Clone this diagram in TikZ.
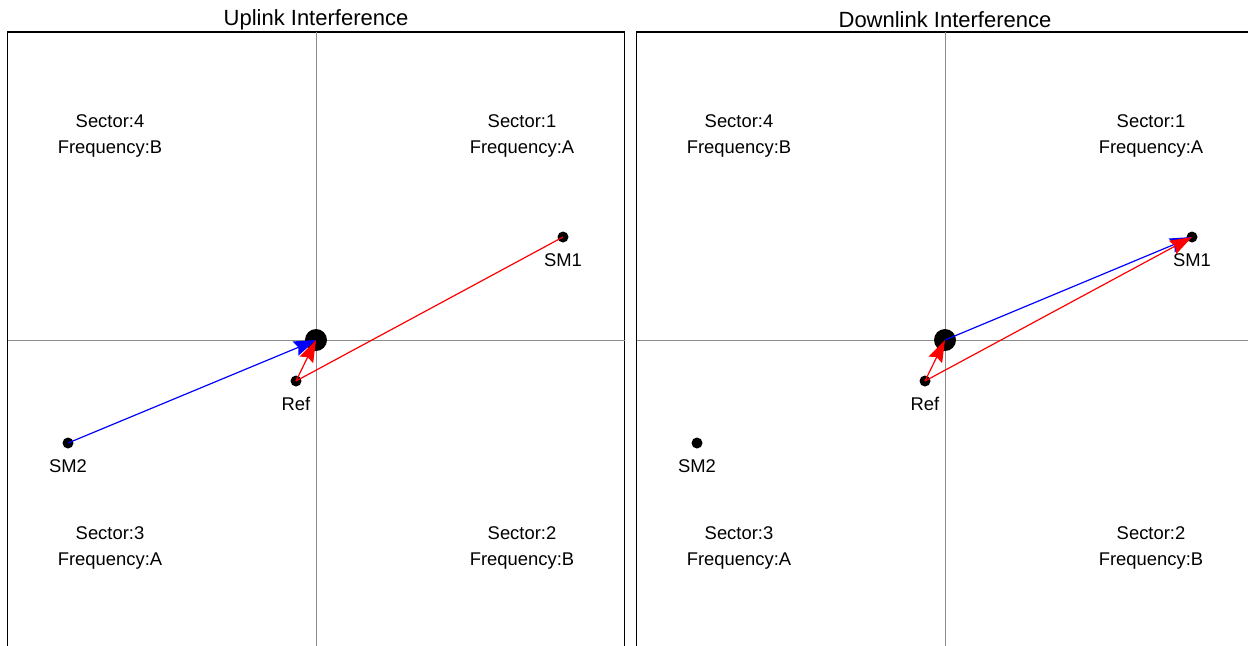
\documentclass[tikz,border=0pt]{standalone}
\usepackage{fontspec}
\setmainfont{Liberation Sans}
\usetikzlibrary{arrows.meta,positioning}
\definecolor{AxisGray}{HTML}{8C8C8C}

\begin{document}
\begin{tikzpicture}[x=0.5pt,y=-0.5pt, every node/.style={font=\fontsize{9.2}{11}\selectfont},
 frame/.style={draw=black,line width=0.9pt},
 axis/.style={draw=AxisGray,line width=0.5pt},
 dot/.style={circle,fill=black,inner sep=0pt,minimum size=5.5pt},
 hub/.style={circle,fill=black,inner sep=0pt,minimum size=11pt},
 lbl/.style={inner sep=1pt},
 ttl/.style={font=\fontsize{11}{13}\selectfont},
 sect/.style={align=center,font=\fontsize{9.2}{13}\selectfont},
 arr/.style={-{Stealth[length=11pt,width=7.5pt,inset=1.5pt]},line width=0.6pt}]
\clip (0,0) rectangle (1248,645);
\fill[white] (0,0) rectangle (1248,645);
% both panels
\foreach \p/\dx/\name in {U/0/Uplink Interference,D/629/Downlink Interference}{
  \draw[frame] (7.5+\dx,700) -- (7.5+\dx,32) -- (624.5+\dx,32) -- (624.5+\dx,700);
  \node[ttl] (title\p) at (316+\dx,20) {\name};
  \draw[axis] (7.5+\dx,340) -- (624.5+\dx,340);
  \draw[axis] (316+\dx,32) -- (316+\dx,700);
  \node[sect] (secA\p) at (110+\dx,136) {Sector:4\\Frequency:B};
  \node[sect] (secB\p) at (522+\dx,136) {Sector:1\\Frequency:A};
  \node[sect] (secC\p) at (110+\dx,548) {Sector:3\\Frequency:A};
  \node[sect] (secD\p) at (522+\dx,548) {Sector:2\\Frequency:B};
  \node[hub] (ctr\p) at (316+\dx,340) {};
  \node[dot] (ref\p) at (296+\dx,381) {};
  \node[dot] (smA\p) at (563+\dx,237) {};
  \node[dot] (smB\p) at (68+\dx,443) {};
  \node[lbl,below=4pt of ref\p] {Ref};
  \node[lbl,below=4pt of smA\p] {SM1};
  \node[lbl,below=4pt of smB\p] {SM2};
}
% uplink
\draw[red,line width=0.6pt] (smAU.center) -- (refU.center);
\draw[arr,blue] (smBU.center) -- (ctrU.center);
\draw[arr,red] (refU.center) -- (ctrU.center);
% downlink
\draw[arr,blue] (ctrD.center) -- (smAD.center);
\draw[arr,red] (refD.center) -- (smAD.center);
\draw[arr,red] (refD.center) -- (ctrD.center);
\end{tikzpicture}
\end{document}
